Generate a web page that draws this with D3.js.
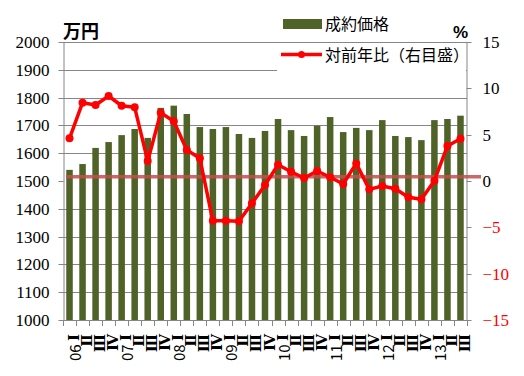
<!DOCTYPE html>
<html>
<head>
<meta charset="utf-8">
<script src="https://cdn.jsdelivr.net/npm/d3@7"></script>
<style>
body { margin: 0; background: #fff; }
svg { display: block; }
.jp { font-family: "Noto Sans CJK JP", sans-serif; }
.roman { font-family: "DejaVu Serif", serif; font-weight: bold; }
</style>
</head>
<body>
<div id="chart"></div>
<script>
var quarters = ["Ⅰ", "Ⅱ", "Ⅲ", "Ⅳ"]
// each period: [year, quarter index]
var periods = [["06",0],["06",1],["06",2],["06",3],["07",0],["07",1],["07",2],["07",3],
  ["08",0],["08",1],["08",2],["08",3],["09",0],["09",1],["09",2],["09",3],
  ["10",0],["10",1],["10",2],["10",3],["11",0],["11",1],["11",2],["11",3],
  ["12",0],["12",1],["12",2],["12",3],["13",0],["13",1],["13",2]]
// 成約価格 (万円)
var price = [1540,1561,1619,1640,1665,1687,1655,1763,1771,1741,1694,1687,1694,1669,1655,1680,
  1723,1683,1662,1699,1730,1676,1691,1683,1719,1662,1658,1647,1719,1723,1735]
// 対前年比 (%)
var yoy = [4.6,8.45,8.2,9.17,8.12,7.95,2.16,7.37,6.44,3.34,2.45,-4.3,-4.3,-4.35,-2.4,-0.43,
  1.76,1.0,0.32,1.08,0.4,-0.32,1.9,-0.9,-0.54,-0.83,-1.76,-1.98,0.03,3.78,4.57]
var leftTicks = d3.range(1000, 2001, 100)
var rightTicks = [-15, -10, -5, 0, 5, 10, 15]
var refLevel = 0.45

var chartW = 524, chartH = 376
var plotL = 63, plotR = 467, plotT = 42, plotB = 320
var grey = "#868686"
var serif = "'Liberation Serif', 'Times New Roman', serif"

var svg = d3.select("#chart").append("svg")
  .attr("width", chartW)
  .attr("height", chartH)

var x = d3.scaleBand()
  .domain(d3.range(periods.length))
  .range([plotL, plotR])
  .paddingInner(0.5)
  .paddingOuter(0.25)
var yL = d3.scaleLinear().domain([1000, 2000]).range([plotB, plotT])
var yR = d3.scaleLinear().domain([-15, 15]).range([plotB, plotT])

// gridlines (the 1500 one sits under the reference band in the original)
svg.append("g")
  .selectAll("line")
  .data(leftTicks.filter(function (d) { return d > 1000 && d !== 1500 }))
  .enter()
  .append("line")
  .attr("x1", plotL).attr("x2", plotR)
  .attr("y1", function (d) { return Math.round(yL(d)) + 0.5 })
  .attr("y2", function (d) { return Math.round(yL(d)) + 0.5 })
  .attr("stroke", grey)

// legend background hides part of the grid
svg.append("rect")
  .attr("x", 277).attr("y", 44)
  .attr("width", 189).attr("height", 29)
  .attr("fill", "#fff")

// bars
svg.append("g")
  .selectAll("rect")
  .data(price)
  .enter()
  .append("rect")
  .attr("x", function (d, i) { return x(i) })
  .attr("width", x.bandwidth())
  .attr("y", function (d) { return yL(d) })
  .attr("height", function (d) { return plotB - yL(d) })
  .attr("fill", "#4f6228")

// left axis
var axL = svg.append("g")
  .attr("transform", "translate(" + (plotL + 0.5) + ",0)")
  .call(d3.axisLeft(yL).tickValues(leftTicks).tickFormat(d3.format("d"))
    .tickSize(5).tickPadding(9).tickSizeOuter(0))
axL.attr("font-family", serif).attr("font-size", 17)
axL.selectAll("path, line").attr("stroke", grey)
axL.selectAll("text").attr("fill", "#000")
axL.selectAll(".tick").attr("transform", function (d) { return "translate(0," + (Math.round(yL(d)) + 0.5) + ")" })

// right axis
var axR = svg.append("g")
  .attr("transform", "translate(" + (plotR - 0.5) + ",0)")
  .call(d3.axisRight(yR).tickValues(rightTicks).tickSize(5).tickPadding(11).tickSizeOuter(0))
axR.attr("font-family", serif).attr("font-size", 17)
axR.selectAll("path, line").attr("stroke", grey)
axR.selectAll("text")
  .attr("fill", function (d) { return d < 0 ? "#ff0000" : "#000" })
axR.selectAll(".tick").attr("transform", function (d) { return "translate(0," + (Math.round(yR(d)) + 0.5) + ")" })

// bottom axis with ticks between categories
var gap = (x.step() - x.bandwidth()) / 2
var bounds = d3.range(periods.length).map(function (i) { return x(i) - gap }).concat([plotR])
svg.append("line")
  .attr("x1", plotL).attr("x2", plotR)
  .attr("y1", plotB + 0.5).attr("y2", plotB + 0.5)
  .attr("stroke", grey)
svg.append("g")
  .selectAll("line")
  .data(bounds)
  .enter()
  .append("line")
  .attr("x1", function (d) { return Math.round(d) + 0.5 })
  .attr("x2", function (d) { return Math.round(d) + 0.5 })
  .attr("y1", plotB).attr("y2", plotB + 6)
  .attr("stroke", grey)

var xLabels = svg.append("g")
  .selectAll("text")
  .data(periods)
  .enter()
  .append("text")
  .attr("class", "jp")
  .attr("transform", function (d, i) {
    return "translate(" + (x(i) + x.bandwidth() / 2 + 4.5) + "," + 334 + ") rotate(-90)"
  })
  .attr("text-anchor", "end")
  .attr("dominant-baseline", "central")
  .style("font-size", "15px")
xLabels.append("tspan")
  .text(function (d) { return d[1] === 0 ? d[0] + " " : "" })
xLabels.append("tspan")
  .attr("class", "roman")
  .text(function (d) { return quarters[d[1]] })

// reference band at 0%
svg.append("line")
  .attr("x1", plotL + 3).attr("x2", plotR + 14)
  .attr("y1", yR(refLevel)).attr("y2", yR(refLevel))
  .attr("stroke", "#c0504d")
  .attr("stroke-opacity", 0.85)
  .attr("stroke-width", 3.5)

// year on year line
var line = d3.line()
  .x(function (d, i) { return x(i) + x.bandwidth() / 2 })
  .y(function (d) { return yR(d) })
svg.append("path")
  .datum(yoy)
  .attr("d", line)
  .attr("fill", "none")
  .attr("stroke", "#ff0000")
  .attr("stroke-width", 3.5)
  .attr("stroke-linejoin", "round")
svg.append("g")
  .selectAll("circle")
  .data(yoy)
  .enter()
  .append("circle")
  .attr("cx", function (d, i) { return x(i) + x.bandwidth() / 2 })
  .attr("cy", function (d) { return yR(d) })
  .attr("r", 4)
  .attr("fill", "#ff0000")

// unit labels
svg.append("text")
  .attr("class", "jp")
  .attr("x", 63).attr("y", 38)
  .style("font-size", "18px").style("font-weight", "bold")
  .text("万円")
svg.append("text")
  .attr("x", 468).attr("y", 38)
  .attr("text-anchor", "end")
  .style("font-family", "Liberation Sans").style("font-size", "17px").style("font-weight", "bold")
  .text("%")

// legend
svg.append("rect")
  .attr("x", 283).attr("y", 19)
  .attr("width", 39).attr("height", 10)
  .attr("fill", "#4f6228")
svg.append("text")
  .attr("class", "jp")
  .attr("x", 325).attr("y", 29.5)
  .style("font-size", "16px")
  .text("成約価格")
svg.append("line")
  .attr("x1", 281).attr("x2", 322)
  .attr("y1", 54.5).attr("y2", 54.5)
  .attr("stroke", "#ff0000").attr("stroke-width", 3.5)
svg.append("circle")
  .attr("cx", 301.5).attr("cy", 54.5).attr("r", 3.5)
  .attr("fill", "#ff0000")
svg.append("text")
  .attr("class", "jp")
  .attr("x", 325).attr("y", 60.5)
  .style("font-size", "16px")
  .text("対前年比（右目盛）")
</script>
</body>
</html>
